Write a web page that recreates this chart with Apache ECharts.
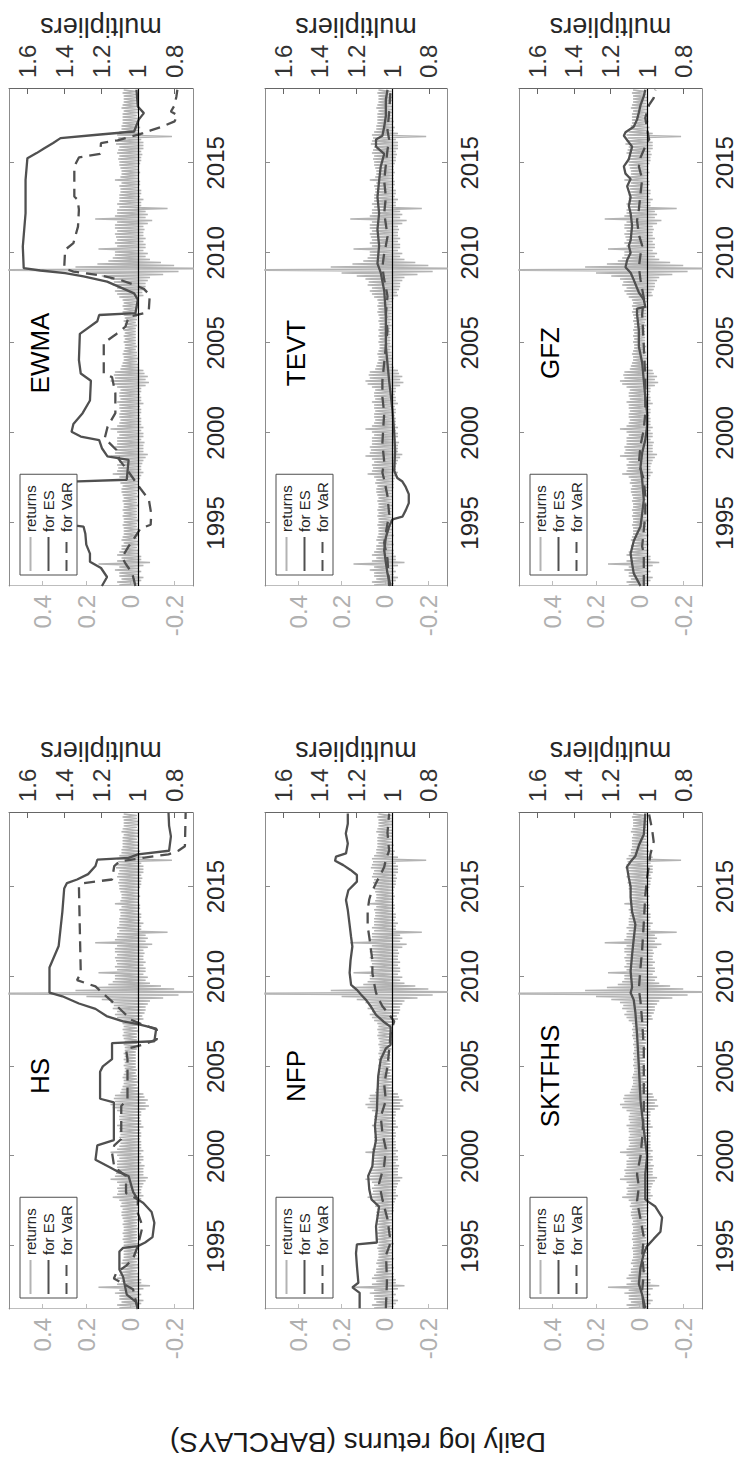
<!DOCTYPE html>
<html><head><meta charset="utf-8">
<script src="https://cdn.jsdelivr.net/npm/echarts@6/dist/echarts.min.js"></script>
<style>
html,body{margin:0;padding:0;background:#fff;width:737px;height:1459px;overflow:hidden}
#wrap{position:absolute;left:0;top:0;width:1459px;height:737px;transform-origin:0 0;transform:translate(0px,1459px) rotate(-90deg)}
#chart{width:1459px;height:737px}
</style></head><body><div id="wrap"><div id="chart"></div></div>
<script>
const FONT = '"Liberation Sans", Arial, Helvetica, sans-serif';
const YEAR_TICKS = [1995, 2000, 2005, 2010, 2015];
const RET_TICKS = [-0.2, 0, 0.2, 0.4];
const MULT_TICKS = [0.8, 1, 1.2, 1.4, 1.6];
const X_MIN = 1991.5, X_MAX = 2019.1;
const RET_MIN = -0.286, RET_MAX = 0.553;
const MULT_MIN = 0.7, MULT_MAX = 1.7;
const LEGEND_NAMES = ['returns', 'for ES', 'for VaR'];

// daily log returns, sampled about monthly (extremes), starting mid-1991
const RET_START = 1991.55, RET_STEP = 1 / 12;
const RETURNS = [
  0.05,-0.04,0.06,-0.05,0.04,-0.06,0.05,-0.04,0.05,-0.05,0.07,-0.04,
  0.05,-0.06,0.145,-0.09,0.06,-0.05,0.04,-0.05,0.06,-0.04,0.05,-0.04,
  0.04,-0.03,0.04,-0.04,0.03,-0.035,0.04,-0.03,0.035,-0.04,0.03,-0.03,
  0.03,-0.035,0.03,-0.03,0.035,-0.03,0.03,-0.04,0.03,-0.03,0.035,-0.03,
  0.03,-0.03,0.035,-0.03,0.03,-0.035,0.03,-0.03,0.035,-0.03,0.03,-0.035,
  0.035,-0.03,0.04,-0.035,0.04,-0.04,0.035,-0.04,0.045,-0.04,0.04,-0.045,
  0.05,-0.05,0.08,-0.06,0.06,-0.05,0.055,-0.05,0.06,-0.055,0.05,-0.06,
  0.06,-0.07,0.09,-0.08,0.07,-0.06,0.065,-0.06,0.07,-0.06,0.06,-0.065,
  0.06,-0.05,0.06,-0.06,0.05,-0.06,0.06,-0.05,0.09,-0.06,0.06,-0.05,
  0.05,-0.05,0.045,-0.05,0.05,-0.045,0.05,-0.05,0.045,-0.05,0.05,-0.045,
  0.05,-0.06,0.06,-0.05,0.045,-0.05,0.05,-0.045,0.05,-0.05,0.045,-0.05,
  0.06,-0.07,0.08,-0.085,0.09,-0.07,0.07,-0.08,0.075,-0.065,0.07,-0.06,
  0.045,-0.04,0.04,-0.035,0.035,-0.03,0.03,-0.035,0.03,-0.03,0.035,-0.03,
  0.03,-0.025,0.025,-0.03,0.025,-0.025,0.03,-0.025,0.025,-0.025,0.03,-0.025,
  0.025,-0.025,0.03,-0.025,0.025,-0.03,0.025,-0.025,0.03,-0.03,0.025,-0.03,
  0.03,-0.03,0.035,-0.03,0.03,-0.035,0.035,-0.03,0.03,-0.035,0.035,-0.04,
  0.05,-0.06,0.06,-0.055,0.07,-0.065,0.06,-0.07,0.08,-0.07,0.075,-0.08,
  0.09,-0.09,0.13,-0.15,0.2,-0.22,0.75,-0.45,0.25,-0.2,0.15,-0.14,
  0.1,-0.09,0.08,-0.07,0.07,-0.08,0.07,-0.06,0.145,-0.07,0.06,-0.07,
  0.07,-0.06,0.06,-0.07,0.065,-0.06,0.07,-0.06,0.06,-0.065,0.07,-0.06,
  0.07,-0.08,0.06,-0.1,0.16,-0.07,0.07,-0.08,0.06,-0.07,0.06,-0.17,
  0.05,-0.05,0.06,-0.05,0.05,-0.06,0.05,-0.045,0.05,-0.05,0.045,-0.05,
  0.045,-0.04,0.05,-0.045,0.04,-0.045,0.07,-0.04,0.045,-0.04,0.04,-0.045,
  0.04,-0.04,0.045,-0.04,0.05,-0.045,0.05,-0.05,0.055,-0.05,0.05,-0.055,
  0.06,-0.05,0.055,-0.06,0.05,-0.06,0.065,-0.06,0.06,-0.05,0.055,-0.19,
  0.06,-0.06,0.05,-0.04,0.04,-0.045,0.04,-0.035,0.035,-0.04,0.035,-0.035,
  0.035,-0.03,0.035,-0.035,0.03,-0.035,0.04,-0.035,0.035,-0.03,0.03,-0.035,
  0.03,-0.035,0.03,-0.03,0.035,-0.03,0.03
];

// multipliers [year, value]
const HS_ES = [[1991.5,1.0],[1991.9,1.01],[1992.3,1.06],[1993.3,1.08],[1993.7,1.10],[1994.7,1.10],[1994.9,1.08],[1995.0,1.0],[1995.2,0.96],[1995.5,0.92],[1996.3,0.91],[1996.9,0.925],[1997.4,0.97],[1997.6,1.0],[1998.0,1.025],[1998.9,1.05],[1999.1,1.10],[1999.4,1.155],[1999.8,1.23],[2000.6,1.22],[2000.9,1.13],[2003.0,1.13],[2003.2,1.205],[2004.7,1.205],[2005.0,1.19],[2005.4,1.14],[2006.3,1.14],[2006.4,0.91],[2007.1,0.9],[2007.35,1.0],[2007.5,1.08],[2007.8,1.17],[2008.2,1.23],[2008.5,1.32],[2008.9,1.41],[2009.1,1.48],[2010.5,1.48],[2011.7,1.43],[2013.6,1.41],[2014.9,1.40],[2015.2,1.385],[2015.4,1.33],[2015.7,1.27],[2016.15,1.23],[2016.5,1.22],[2016.6,1.05],[2016.8,1.0],[2017.0,0.83],[2017.8,0.82],[2018.4,0.83],[2019.1,0.833]];
const HS_VAR = [[1991.5,1.0],[1992.6,1.026],[1993.2,1.13],[1993.55,1.115],[1993.9,1.064],[1994.3,1.026],[1995.0,1.0],[1996.1,0.974],[1996.85,1.0],[1997.6,1.0],[1997.95,1.064],[1998.9,1.064],[1999.4,1.128],[2000.2,1.14],[2000.6,1.128],[2000.96,1.09],[2002.8,1.09],[2003.17,1.056],[2005.4,1.056],[2005.96,1.064],[2006.2,0.974],[2006.5,0.897],[2007.05,0.897],[2007.33,0.974],[2007.6,1.038],[2008.0,1.077],[2008.5,1.128],[2009.07,1.19],[2009.45,1.23],[2009.8,1.33],[2010.2,1.31],[2015.0,1.32],[2015.2,1.295],[2015.4,1.14],[2016.15,1.128],[2016.4,1.10],[2016.6,0.974],[2016.8,0.833],[2017.0,0.78],[2017.25,0.744],[2019.1,0.74]];
const NFP_ES = [[1991.54,1.18],[1992.4,1.18],[1992.7,1.22],[1992.96,1.187],[1993.9,1.195],[1994.6,1.20],[1995.1,1.195],[1995.2,1.085],[1996.1,1.09],[1997.2,1.073],[1997.6,1.115],[1998.15,1.127],[1998.9,1.133],[1999.45,1.11],[2000.2,1.104],[2000.9,1.09],[2001.7,1.096],[2002.6,1.085],[2003.5,1.082],[2004.45,1.078],[2005.4,1.064],[2006.0,1.036],[2006.2,1.01],[2007.2,1.01],[2007.5,1.05],[2007.87,1.09],[2008.33,1.118],[2008.7,1.145],[2009.0,1.173],[2009.26,1.195],[2009.54,1.227],[2010.2,1.235],[2010.9,1.23],[2011.67,1.22],[2012.2,1.227],[2012.96,1.236],[2013.7,1.245],[2014.26,1.255],[2014.8,1.242],[2015.28,1.195],[2015.65,1.195],[2015.93,1.23],[2016.2,1.27],[2016.44,1.315],[2016.67,1.31],[2016.85,1.255],[2017.4,1.245],[2017.96,1.256],[2018.5,1.245],[2019.07,1.245]];
const NFP_VAR = [[1991.54,1.036],[1993.0,1.03],[1994.5,1.035],[1995.2,1.01],[1996.5,1.027],[1997.6,1.055],[1998.5,1.073],[1999.5,1.045],[2000.4,1.036],[2001.3,1.055],[2002.2,1.064],[2003.1,1.036],[2004.0,1.045],[2005.0,1.027],[2005.9,1.018],[2006.8,1.01],[2007.2,1.0],[2007.5,0.99],[2008.0,1.027],[2008.35,1.055],[2008.7,1.073],[2009.1,1.09],[2009.6,1.10],[2010.2,1.11],[2010.9,1.11],[2011.5,1.118],[2012.2,1.127],[2012.8,1.136],[2013.7,1.136],[2014.3,1.127],[2014.6,1.118],[2015.2,1.09],[2015.7,1.064],[2016.1,1.045],[2016.5,1.036],[2017.0,1.018],[2018.0,1.027],[2019.07,1.018]];
const SKTFHS_ES = [[1991.54,1.01],[1992.3,1.027],[1992.9,1.045],[1993.8,1.036],[1994.6,1.018],[1995.0,1.0],[1995.4,0.964],[1995.8,0.927],[1996.6,0.918],[1997.2,0.955],[1997.45,0.99],[1997.6,1.01],[1999.0,1.01],[2000.0,1.0],[2001.5,1.018],[2003.1,1.036],[2005.0,1.045],[2006.8,1.055],[2008.0,1.064],[2008.7,1.073],[2009.1,1.09],[2009.4,1.082],[2010.3,1.09],[2011.2,1.082],[2012.1,1.073],[2012.9,1.064],[2013.6,1.082],[2014.4,1.09],[2015.0,1.09],[2015.5,1.10],[2016.1,1.11],[2016.4,1.09],[2016.7,1.064],[2017.3,1.045],[2017.9,1.018],[2019.07,1.01]];
const SKTFHS_VAR = [[1991.54,1.018],[1992.5,1.027],[1993.5,1.018],[1994.5,1.027],[1995.5,1.018],[1996.5,1.036],[1997.5,1.055],[1998.3,1.045],[1999.0,1.055],[2000.0,1.036],[2001.0,1.027],[2002.5,1.018],[2004.0,1.018],[2006.0,1.018],[2007.5,1.027],[2008.6,1.036],[2009.3,1.045],[2010.5,1.036],[2011.5,1.027],[2013.0,1.018],[2014.5,1.01],[2015.5,1.0],[2016.2,0.99],[2016.8,0.982],[2017.5,0.964],[2018.2,0.973],[2019.07,0.99]];
const EWMA_ES = [[1991.5,1.195],[1992.0,1.167],[1992.5,1.20],[1992.85,1.26],[1993.3,1.26],[1993.8,1.28],[1994.4,1.285],[1994.8,1.295],[1994.9,1.37],[1995.5,1.375],[1996.5,1.37],[1997.3,1.365],[1997.4,1.06],[1998.5,1.05],[1998.7,1.165],[1999.15,1.195],[1999.6,1.21],[1999.8,1.31],[2000.07,1.36],[2000.5,1.35],[2001.1,1.30],[2001.8,1.26],[2002.9,1.255],[2003.3,1.31],[2004.05,1.32],[2005.5,1.315],[2006.2,1.22],[2006.55,1.21],[2006.65,1.013],[2007.4,1.0],[2007.75,1.02],[2008.0,1.076],[2008.4,1.167],[2008.7,1.295],[2008.87,1.395],[2009.02,1.53],[2009.15,1.62],[2010.35,1.625],[2012.2,1.61],[2014.05,1.61],[2015.26,1.60],[2015.54,1.55],[2015.8,1.51],[2016.1,1.46],[2016.37,1.42],[2016.56,1.22],[2016.74,1.02],[2017.4,0.995],[2017.76,0.967],[2018.13,1.0],[2019.06,1.007]];
const EWMA_VAR = [[1991.5,1.013],[1992.2,1.03],[1992.75,1.067],[1993.1,1.085],[1993.7,1.05],[1994.25,1.013],[1994.7,0.985],[1994.9,0.93],[1995.5,0.927],[1996.3,0.94],[1996.9,0.985],[1997.4,1.02],[1997.95,1.058],[1998.5,1.10],[1999.05,1.116],[1999.7,1.18],[2000.35,1.164],[2001.1,1.122],[2002.2,1.122],[2003.1,1.14],[2003.3,1.185],[2005.0,1.185],[2005.45,1.122],[2005.9,1.067],[2006.45,1.05],[2006.65,0.967],[2006.85,0.94],[2007.65,0.935],[2008.0,0.967],[2008.2,1.013],[2008.5,1.095],[2008.78,1.22],[2008.96,1.35],[2009.15,1.40],[2010.17,1.395],[2010.54,1.35],[2011.46,1.325],[2012.4,1.32],[2012.95,1.327],[2013.13,1.345],[2014.8,1.345],[2015.3,1.32],[2015.5,1.205],[2016.1,1.2],[2016.25,1.11],[2016.45,1.04],[2016.6,0.985],[2016.8,0.93],[2017.0,0.87],[2017.3,0.80],[2017.65,0.785],[2017.85,0.82],[2018.2,0.80],[2018.7,0.79],[2019.06,0.785]];
const TEVT_ES = [[1991.5,1.01],[1992.2,1.027],[1992.8,1.036],[1993.5,1.045],[1994.2,1.036],[1994.8,1.018],[1995.2,1.0],[1995.35,0.945],[1995.7,0.927],[1996.1,0.91],[1996.6,0.91],[1997.0,0.927],[1997.3,0.945],[1997.5,0.973],[1997.9,0.99],[1999.0,0.985],[2000.0,0.99],[2001.3,1.0],[2002.9,1.018],[2004.8,1.036],[2006.6,1.036],[2007.9,1.045],[2008.9,1.064],[2009.4,1.082],[2010.4,1.073],[2011.3,1.082],[2012.2,1.073],[2013.1,1.082],[2014.0,1.073],[2014.8,1.064],[2015.5,1.045],[2015.9,1.09],[2016.3,1.09],[2016.5,1.055],[2017.0,1.045],[2017.6,1.036],[2018.5,1.036],[2019.06,1.027]];
const TEVT_VAR = [[1991.5,1.018],[1993.0,1.027],[1993.9,1.045],[1995.5,1.018],[1996.5,1.027],[1997.4,1.045],[1997.8,1.055],[1998.4,1.045],[1999.4,1.055],[2000.3,1.05],[2001.1,1.045],[2002.0,1.055],[2002.9,1.055],[2003.9,1.045],[2004.8,1.036],[2005.7,1.027],[2006.6,1.036],[2007.6,1.027],[2008.1,1.036],[2008.5,1.045],[2009.2,1.055],[2010.0,1.045],[2010.4,1.036],[2010.9,1.027],[2011.6,1.036],[2012.2,1.045],[2013.1,1.036],[2014.0,1.045],[2014.9,1.036],[2015.7,1.027],[2016.3,1.018],[2016.8,1.027],[2017.8,1.018],[2019.06,1.01]];
const GFZ_ES = [[1991.5,1.036],[1992.2,1.073],[1992.75,1.082],[1993.3,1.09],[1994.0,1.073],[1994.4,1.055],[1994.8,1.036],[1995.5,1.027],[1996.3,1.018],[1997.4,1.027],[1998.1,1.036],[1998.9,1.027],[1999.6,1.01],[2000.4,1.0],[2001.1,1.0],[2002.0,1.01],[2002.9,1.018],[2003.9,1.027],[2004.8,1.045],[2005.7,1.045],[2006.6,1.055],[2006.9,1.055],[2007.0,1.01],[2007.4,1.018],[2007.8,1.045],[2008.5,1.073],[2008.9,1.09],[2009.2,1.118],[2009.6,1.109],[2010.0,1.09],[2010.4,1.10],[2010.7,1.09],[2011.5,1.082],[2012.2,1.09],[2012.6,1.10],[2013.1,1.09],[2013.7,1.109],[2014.1,1.09],[2014.4,1.118],[2014.8,1.127],[2015.2,1.10],[2015.9,1.082],[2016.5,1.127],[2016.7,1.118],[2017.0,1.073],[2017.4,1.055],[2017.8,1.045],[2018.2,1.036],[2018.7,1.018],[2019.06,1.01]];
const GFZ_VAR = [[1991.5,1.018],[1993.3,1.018],[1993.7,1.027],[1994.6,1.018],[1995.5,1.01],[1996.5,1.01],[1997.4,1.018],[1998.3,1.045],[1999.3,1.036],[2000.2,1.018],[2001.1,1.01],[2003.0,1.01],[2004.8,1.018],[2006.6,1.027],[2007.5,1.018],[2008.5,1.036],[2009.2,1.045],[2009.9,1.036],[2010.4,1.027],[2011.0,1.045],[2011.8,1.055],[2012.4,1.045],[2013.3,1.036],[2014.1,1.027],[2014.8,1.045],[2015.3,1.036],[2015.9,1.01],[2016.3,0.99],[2016.9,1.0],[2017.5,1.01],[2018.2,0.99],[2018.6,0.964],[2019.06,0.955]];

const PANELS = [
  {name: 'HS', col: 0, row: 0, es: HS_ES, vr: HS_VAR},
  {name: 'NFP', col: 0, row: 1, es: NFP_ES, vr: NFP_VAR},
  {name: 'SKTFHS', col: 0, row: 2, es: SKTFHS_ES, vr: SKTFHS_VAR},
  {name: 'EWMA', col: 1, row: 0, es: EWMA_ES, vr: EWMA_VAR},
  {name: 'TEVT', col: 1, row: 1, es: TEVT_ES, vr: TEVT_VAR},
  {name: 'GFZ', col: 1, row: 2, es: GFZ_ES, vr: GFZ_VAR}
];

// layout (landscape frame, later rotated)
const COL_LEFT = [150, 873], COL_W = [496, 497];
const ROW_TOP = [9, 265, 519], ROW_H = [184, 182, 183];

const retData = RETURNS.map((v, i) => [RET_START + i * RET_STEP, v]);

const C_RET = '#b3b3b3', C_LINE = '#505050', C_AX = '#8c8c8c';
const grids = [], xAxes = [], yAxes = [], series = [], legends = [], graphics = [];

PANELS.forEach((p, k) => {
  const L = COL_LEFT[p.col], T = ROW_TOP[p.row], W = COL_W[p.col], H = ROW_H[p.row];
  grids.push({left: L, top: T, width: W, height: H, containLabel: false});
  const xBase = {
    type: 'value', gridIndex: k, min: X_MIN, max: X_MAX, splitLine: {show: false},
    axisLine: {show: true, onZero: false, lineStyle: {color: C_AX, width: 1}},
    axisTick: {show: true, inside: true, length: 5, customValues: YEAR_TICKS, lineStyle: {color: C_AX}}
  };
  xAxes.push(Object.assign({}, xBase, {position: 'bottom',
    axisLabel: {show: true, customValues: YEAR_TICKS, fontSize: 24, color: '#262626', fontFamily: FONT, margin: 10, formatter: v => String(v)}}));
  xAxes.push(Object.assign({}, xBase, {position: 'top', axisLabel: {show: false}}));
  yAxes.push({
    type: 'value', gridIndex: k, position: 'left', min: RET_MIN, max: RET_MAX, splitLine: {show: false},
    axisLine: {show: true, onZero: false, lineStyle: {color: '#bdbdbd'}},
    axisTick: {show: true, inside: true, length: 5, customValues: RET_TICKS, lineStyle: {color: '#bdbdbd'}},
    axisLabel: {customValues: RET_TICKS, fontSize: 24, color: '#b0b0b0', fontFamily: FONT, margin: 9, formatter: v => String(Math.round(v * 10) / 10)}
  });
  yAxes.push({
    type: 'value', gridIndex: k, position: 'right', min: MULT_MIN, max: MULT_MAX, splitLine: {show: false},
    axisLine: {show: true, onZero: false, lineStyle: {color: '#666666'}},
    axisTick: {show: true, inside: true, length: 5, customValues: MULT_TICKS, lineStyle: {color: '#666666'}},
    axisLabel: {customValues: MULT_TICKS, fontSize: 24, color: '#333333', fontFamily: FONT, margin: 11, formatter: v => String(Math.round(v * 10) / 10)},
    name: 'multipliers', nameLocation: 'middle', nameRotate: 90, nameGap: 47,
    nameTextStyle: {fontSize: 27, color: '#262626', fontFamily: FONT}
  });
  series.push({
    type: 'line', name: 'returns', xAxisIndex: 2 * k, yAxisIndex: 2 * k, data: retData,
    symbol: 'none', showSymbol: false, clip: true, silent: true, z: 1,
    lineStyle: {color: C_RET, width: 1.5}, itemStyle: {color: C_RET}
  });
  series.push({
    type: 'line', name: 'for ES', xAxisIndex: 2 * k, yAxisIndex: 2 * k + 1, data: p.es,
    symbol: 'none', showSymbol: false, clip: true, silent: true, z: 3,
    lineStyle: {color: C_LINE, width: 2.3}, itemStyle: {color: C_LINE}
  });
  series.push({
    type: 'line', name: 'for VaR', xAxisIndex: 2 * k, yAxisIndex: 2 * k + 1, data: p.vr,
    symbol: 'none', showSymbol: false, clip: true, silent: true, z: 3,
    lineStyle: {color: C_LINE, width: 2.3, type: [11, 7]}, itemStyle: {color: C_LINE},
    markLine: {symbol: 'none', silent: true, animation: false, label: {show: false},
      lineStyle: {color: '#000', width: 1.2, type: 'solid'}, data: [{yAxis: 1}]}
  });
  legends.push({
    show: true, orient: 'vertical', left: L + 11, top: T + 11, data: LEGEND_NAMES,
    itemWidth: 34, itemHeight: 12, itemGap: 3, padding: [3, 8, 3, 3],
    borderColor: '#4d4d4d', borderWidth: 1, borderRadius: 0, backgroundColor: '#fff',
    itemStyle: {opacity: 0},
    textStyle: {fontSize: 15, color: '#262626', fontFamily: FONT}, selectedMode: false, z: 10
  });
  graphics.push({type: 'text', x: L + 233, y: T + 31, z: 20, silent: true,
    style: {text: p.name, fill: '#000', font: '26px ' + FONT, align: 'center', verticalAlign: 'middle'}});
});

graphics.push({type: 'text', x: 17, y: 358, rotation: Math.PI / 2, silent: true,
  style: {text: 'Daily log returns (BARCLAYS)', fill: '#1a1a1a', font: '28px ' + FONT, align: 'center', verticalAlign: 'middle'}});

const chart = echarts.init(document.getElementById('chart'), null, {renderer: 'svg', width: 1459, height: 737});
chart.setOption({
  animation: false,
  backgroundColor: '#fff',
  grid: grids, xAxis: xAxes, yAxis: yAxes, series: series, legend: legends, graphic: graphics
});
</script></body></html>
